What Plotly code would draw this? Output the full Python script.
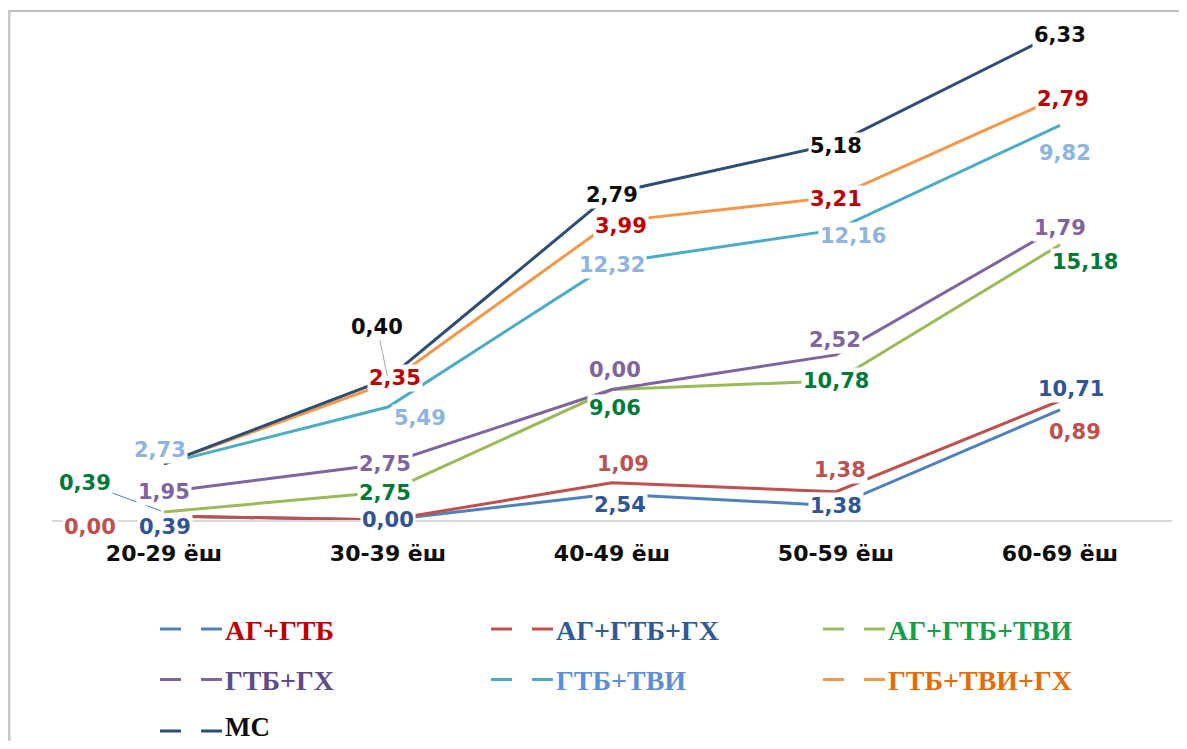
import plotly.graph_objects as go
import numpy as np

# ---------------- data ----------------
categories = ["20-29 ёш", "30-39 ёш", "40-49 ёш", "50-59 ёш", "60-69 ёш"]
series_names = ["АГ+ГТБ", "АГ+ГТБ+ГХ", "АГ+ГТБ+ТВИ", "ГТБ+ГХ", "ГТБ+ТВИ", "ГТБ+ТВИ+ГХ", "МС"]
ag_gtb = [0.39, 0.00, 2.54, 1.38, 10.71]
ag_gtb_gx = [0.00, 0.00, 1.09, 1.38, 0.89]
ag_gtb_tvi = [0.39, 2.75, 9.06, 10.78, 15.18]
gtb_gx = [1.95, 2.75, 0.00, 2.52, 1.79]
gtb_tvi = [2.73, 5.49, 12.32, 12.16, 9.82]
gtb_tvi_gx = [0.00, 2.35, 3.99, 3.21, 2.79]
ms = [0.00, 0.40, 2.79, 5.18, 6.33]
series_values = [ag_gtb, ag_gtb_gx, ag_gtb_tvi, gtb_gx, gtb_tvi, gtb_tvi_gx, ms]
# data labels that are displayed on the chart (True = visible)
label_visible = [
    [True, True, True, True, True],
    [True, False, True, True, True],
    [True, True, True, True, True],
    [True, True, True, True, True],
    [True, True, True, True, True],
    [False, True, True, True, True],
    [False, True, True, True, True],
]

# ---------------- styles ----------------
line_colors = ["#4F81BD", "#C0504D", "#9BBB59", "#8064A2", "#4BACC6", "#F79646", "#2C4D75"]
label_colors = ["#2F5597", "#C0504D", "#007A37", "#8064A2", "#8DB4E2", "#C00000", "#0D0D0D"]
legend_text_colors = ["#C00000", "#2E5A96", "#12A04C", "#5F4B8B", "#5B8FD6", "#E36C09", "#0D0D0D"]
# label offsets (dx, dy) in pixels, screen direction (dy>0 = down)
label_offsets = [
    [(1, 11), (0, 0), (8, 11), (0, 0), (11, -21)],
    [(-74, 11), (0, 0), (11, -19), (4, -22), (15, 31)],
    [(-79, -29), (-3, 1), (3, 18), (0, 0), (25, 17)],
    [(0, 0), (-3, 1), (3, -20), (-1, -15), (0, 2)],
    [(-4, -14), (32, 11), (0, 2), (17, 6), (5, 28)],
    [(0, 0), (7, -5), (9, 4), (0, 2), (3, 2)],
    [(0, 0), (-11, -52), (0, 2), (0, 2), (0, 3)],
]
leader = {(2, 0): "#4F81BD", (6, 1): "#A6A6A6"}

# page has an 8px body margin: the figure is drawn 8px in from the window edge
OFF = 8
W, H = 1187 - 2 * OFF, 749 - 2 * OFF
AXIS_Y = 520 - OFF          # x-axis line (value 0) in figure pixels
PX_PER_UNIT = 10.28
ML, MR, MT = 52 - OFF, W - (1172 - OFF), 0
MB = H - AXIS_Y
PW, PH = W - ML - MR, H - MT - MB
YMAX = PH / PX_PER_UNIT


def px2x(px):  # window pixel -> paper x
    return (px - OFF - ML) / PW


def px2y(py):  # window pixel -> paper y
    return (AXIS_Y - (py - OFF)) / PH


fig = go.Figure()
for i, name in enumerate(series_names):
    fig.add_trace(go.Scatter(
        x=categories, y=series_values[i], name=name, mode="lines",
        stackgroup="one", fill="none",
        line=dict(color=line_colors[i], width=3),
        showlegend=False, hoverinfo="x+y+name",
    ))

cum = np.cumsum(np.array(series_values), axis=0)

annotations = []
for i in range(len(series_names)):
    for j, cat in enumerate(categories):
        if not label_visible[i][j]:
            continue
        txt = f"{series_values[i][j]:.2f}".replace(".", ",")
        dx, dy = label_offsets[i][j]
        a = dict(x=cat, y=float(cum[i][j]), xref="x", yref="y", text=txt,
                 font=dict(family="DejaVu Sans", size=21, color=label_colors[i], weight="bold"),
                 bgcolor="white", borderpad=1)
        if (i, j) in leader:
            a.update(showarrow=True, arrowhead=0, arrowwidth=1, arrowcolor=leader[(i, j)],
                     ax=dx, ay=dy, standoff=3)
        else:
            a.update(showarrow=False, xshift=dx, yshift=-dy)
        annotations.append(a)

# manual legend (3 columns)
shapes = []
col_x = [160, 491, 823]
row_dash_y = [629, 679.5, 731]
row_text_y = [630, 680.5, 727]
for i, name in enumerate(series_names):
    cx = col_x[i % 3]
    r = i // 3
    for (a0, a1) in [(0, 21), (41, 62)]:
        shapes.append(dict(type="line", xref="paper", yref="paper",
                           x0=px2x(cx + a0), x1=px2x(cx + a1),
                           y0=px2y(row_dash_y[r]), y1=px2y(row_dash_y[r]),
                           line=dict(color=line_colors[i], width=3)))
    annotations.append(dict(x=px2x(cx + 65), y=px2y(row_text_y[r]), xref="paper", yref="paper",
                            xanchor="left", yanchor="middle", showarrow=False, text=name,
                            borderpad=0, borderwidth=0,
                            font=dict(family="Liberation Serif", size=28 if r < 2 else 27,
                                      color=legend_text_colors[i], weight="bold")))

# chart frame (top and left edge)
shapes.append(dict(type="line", xref="paper", yref="paper", x0=px2x(8), x1=px2x(1200),
                   y0=px2y(11), y1=px2y(11), line=dict(color="#BFBFBF", width=2)))
shapes.append(dict(type="line", xref="paper", yref="paper", x0=px2x(9), x1=px2x(9),
                   y0=px2y(11), y1=px2y(760), line=dict(color="#C8C8C8", width=3)))

fig.update_layout(
    width=W, height=H,
    margin=dict(l=ML, r=MR, t=MT, b=MB, pad=0),
    paper_bgcolor="white", plot_bgcolor="white",
    showlegend=False,
    annotations=annotations, shapes=shapes,
    xaxis=dict(type="category", range=[-0.5, 4.5], showgrid=False, zeroline=False,
               showline=True, linecolor="#D9D9D9", linewidth=2, ticks="",
               tickfont=dict(family="DejaVu Sans", size=22, color="#0D0D0D", weight="bold"),
               ticklabelstandoff=13),
    yaxis=dict(range=[0, YMAX], visible=False),
)

fig.write_html("out.html")
